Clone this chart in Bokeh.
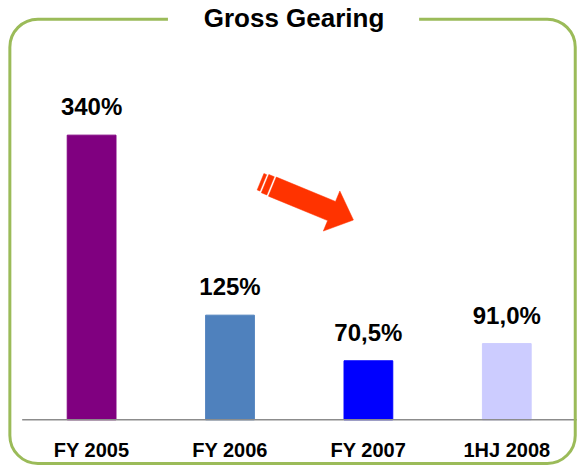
import math
from bokeh.plotting import figure
from bokeh.models import Range1d, BoxAnnotation, Label, ColumnDataSource
from bokeh.core.properties import value
from bokeh.embed import file_html
from bokeh.resources import INLINE

# ---- data ----
categories = ["FY 2005", "FY 2006", "FY 2007", "1HJ 2008"]
gearing = [340, 125, 70.5, 91.0]
value_labels = ["340%", "125%", "70,5%", "91,0%"]
bar_colors = ["#800080", "#4F81BD", "#0000FF", "#CCCCFF"]
title_text = "Gross Gearing"

W, H = 577, 465
S = 0.985                 # scale from reference pixels to figure pixels
PX_X = 140.5 * S          # pixels per category
PX_Y = 0.85 * S           # pixels per percentage point
X0 = -92.5 * S / PX_X
X1 = X0 + W / PX_X
Y0 = -(H - 425.7 * S) / PX_Y
Y1 = Y0 + H / PX_Y
TXT_SHIFT = 8.5           # svg text baseline correction (pixels)

def X(px):
    return X0 + px * S / PX_X

def Y(py):
    return Y1 - py * S / PX_Y

p = figure(width=W, height=H, output_backend="svg", toolbar_location=None,
           x_range=Range1d(X0, X1), y_range=Range1d(Y0, Y1),
           min_border=0, min_border_left=0, min_border_right=0,
           min_border_top=0, min_border_bottom=0)
p.axis.visible = False
p.grid.visible = False
p.outline_line_color = None
p.background_fill_color = "white"
p.border_fill_color = "white"

idx = list(range(len(categories)))
src = ColumnDataSource(dict(x=idx, top=gearing, color=bar_colors,
                            lab=value_labels, cat=categories, zero=[0]*len(idx)))

p.vbar(x="x", top="top", width=49.5 / 140.5, color="color", source=src)

# baseline
p.segment(x0=[X(22)], y0=[0], x1=[X(585)], y1=[0], line_color="#8C8C8C", line_width=1.5)

# value labels
p.text(x="x", y="top", text="lab", source=src, y_offset=-20 * S - TXT_SHIFT,
       text_align="center", text_baseline="alphabetic",
       text_font=value("Liberation Sans"), text_font_style="bold",
       text_font_size="24px", text_color="black")

# category labels
p.text(x="x", y="zero", text="cat", source=src, y_offset=39 * S - TXT_SHIFT,
       text_align="center", text_baseline="alphabetic",
       text_font=value("Liberation Sans"), text_font_style="bold",
       text_font_size="20px", text_color="black")

# arrow (decoration)
ox, oy = 264.0, 184.0
ang = math.radians(22.4)
ca, sa = math.cos(ang), math.sin(ang)

def tf(pts):
    xs, ys = [], []
    for u, v in pts:
        px = ox + u * ca - v * sa
        py = oy + u * sa + v * ca
        xs.append(X(px))
        ys.append(Y(py))
    return xs, ys

shapes = [
    [(0, -9), (3, -9), (3, 9), (0, 9)],
    [(5, -10), (11, -10), (11, 10), (5, 10)],
    [(13, -10.5), (78, -10.5), (78, -22), (102, 0), (78, 22), (78, 10.5), (13, 10.5)],
]
axs, ays = [], []
for s in shapes:
    a, b = tf(s)
    axs.append(a)
    ays.append(b)
p.patches(axs, ays, fill_color="#FF3300", line_color="#FF3300", line_width=0.5)

# rounded frame
frame = BoxAnnotation(left=X(9.5), right=X(583.5), top=Y(19), bottom=Y(470),
                      fill_color=None, fill_alpha=0, line_color="#9BBB59",
                      line_alpha=1.0, line_width=3, border_radius=28)
p.add_layout(frame)
gap = BoxAnnotation(left=X(170), right=X(425), top=Y(10), bottom=Y(28),
                    fill_color="white", fill_alpha=1, line_color=None)
p.add_layout(gap)

p.add_layout(Label(x=X(298), y=Y(26), y_offset=TXT_SHIFT, text=title_text,
                   text_align="center",
                   text_baseline="alphabetic", text_font="Liberation Sans",
                   text_font_style="bold", text_font_size="26px", text_color="black"))

open("out.html", "w").write(file_html(p, INLINE))
